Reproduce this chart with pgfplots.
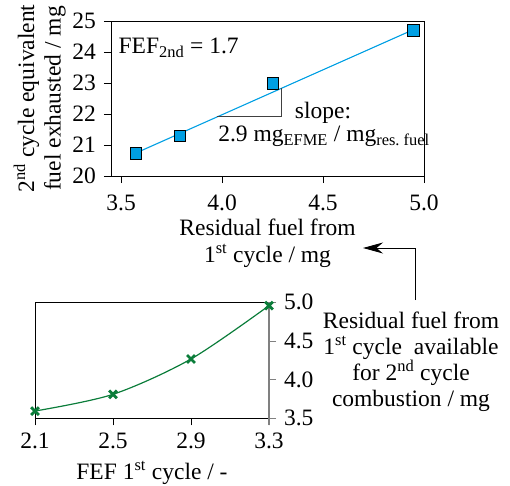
\documentclass[border=0pt]{standalone}
\usepackage{fontspec}
\setmainfont{Liberation Serif}
\usepackage{pgfplots}
\pgfplotsset{compat=1.18}
\usetikzlibrary{arrows.meta}
\definecolor{myblue}{HTML}{009FE3}
\definecolor{mygreen}{HTML}{0B7D3A}
\definecolor{axgray}{HTML}{808080}
\begin{document}
\fontsize{23.5}{27}\selectfont
\begin{tikzpicture}
\useasboundingbox (0,0) rectangle (510pt,485pt);
\pgfplotsset{every axis/.append style={
  scale only axis, clip=false, tick align=outside, major tick length=7pt,
  /pgf/number format/assume math mode=true,
  axis line style={line width=0.9pt},
  every tick/.style={black, line width=0.9pt},
  tick label style={font=\fontsize{23.5}{27}\selectfont},
  label style={font=\fontsize{23.5}{26.5}\selectfont, align=center, inner sep=0pt},
}}
% top axis
\begin{axis}[at={(111pt,309pt)}, anchor=south west, width=313pt, height=155pt,
  xmin=3.45, xmax=5.0, ymin=20, ymax=25,
  xtick={3.5,4.0,4.5,5.0}, ytick={20,21,22,23,24,25},
  x tick label style={yshift=-4pt, /pgf/number format/fixed, /pgf/number format/fixed zerofill, /pgf/number format/precision=1},
  xtick pos=left, ytick pos=left,
  xlabel={Residual fuel from\\1\textsuperscript{st} cycle / mg},
  xlabel style={at={([yshift=-43pt]axis description cs:0.5,0)}, anchor=north},
  ylabel={2\textsuperscript{nd} cycle equivalent\\fuel exhausted / mg},
  ylabel style={at={([xshift=-45pt]axis description cs:0,0.5)}, anchor=south},
]
\addplot[myblue, line width=1.1pt, no marks] coordinates {(3.573,20.74) (4.947,24.72)};
\addplot[only marks, mark=square*, mark size=5.8pt, mark options={fill=myblue, draw=black, line width=0.8pt}]
  coordinates {(3.573,20.73) (3.792,21.29) (4.251,22.99) (4.947,24.69)};
\draw[darkgray, line width=0.9pt] (axis cs:3.974,21.91) -- (axis cs:4.296,21.91) -- (axis cs:4.296,22.84);
\node[anchor=west, inner sep=0pt] at (axis cs:3.487,24.13) {FEF\textsubscript{2nd} = 1.7};
\node[inner sep=0pt] at (axis cs:4.5,22.03) {slope:};
\node[inner sep=0pt] at (axis cs:4.505,21.27) {2.9 mg\textsubscript{EFME} / mg\textsubscript{res.\ fuel}};
\end{axis}
% bottom axis
\begin{axis}[at={(35pt,66.7pt)}, anchor=south west, width=234pt, height=116pt,
  xmin=2.1, xmax=3.3, ymin=3.5, ymax=5.0,
  xtick={2.1,2.5,2.9,3.3}, ytick={3.5,4.0,4.5,5.0},
  tick label style={/pgf/number format/fixed, /pgf/number format/fixed zerofill, /pgf/number format/precision=1},
  xtick pos=left, ytick pos=right, yticklabel pos=right,
  y tick style={axgray},
  xlabel={FEF 1\textsuperscript{st} cycle / -},
  xlabel style={at={([yshift=-43pt]axis description cs:0.5,0)}, anchor=north},
]
\addplot[mygreen, line width=1.2pt, smooth, no marks] coordinates {(2.1,3.594) (2.5,3.81) (2.9,4.267) (3.3,4.957)};
\addplot[only marks, mark=x, mark size=5.5pt, mark options={mygreen, line width=2.8pt}]
  coordinates {(2.1,3.594) (2.5,3.81) (2.9,4.267) (3.3,4.957)};
\draw[axgray, line width=1.5pt] ([yshift=-7pt]rel axis cs:1,0) -- (rel axis cs:1,1);
\end{axis}
% annotation
\draw[line width=0.9pt, -{Stealth[length=20pt,width=11pt]}] (415pt,185pt) -- (415pt,237pt) -- (363pt,237pt);
\node[align=center, font=\fontsize{23.5}{26}\selectfont] at (411pt,123pt)
  {Residual fuel from\\1\textsuperscript{st} cycle\ \ available\\for 2\textsuperscript{nd} cycle\\combustion / mg};
\end{tikzpicture}
\end{document}
